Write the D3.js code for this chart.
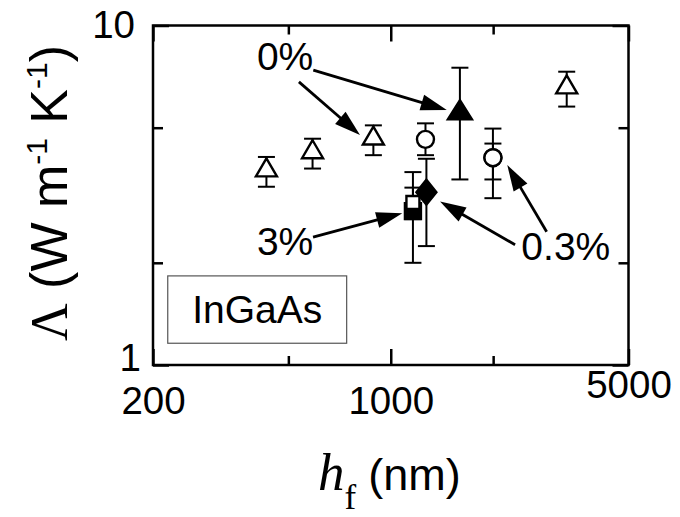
<!DOCTYPE html>
<html lang="en">
<head>
<meta charset="UTF-8">
<title>InGaAs thermal conductivity</title>
<script src="https://d3js.org/d3.v7.min.js"></script>
<style>
  body { margin: 0; background: #fff; }
  text { font-family: "Liberation Sans", Arial, sans-serif; fill: #000; }
  .serif { font-family: "Liberation Serif", "Times New Roman", serif; }
</style>
</head>
<body>
<svg id="chart" width="680" height="517"></svg>
<script>
// film thickness (nm) and conductivity (W m-1 K-1)
const openTriX  = [431, 589, 889, 3291];
const openTriY  = [3.82, 4.32, 4.74, 6.71];
const openTriLo = [3.35, 3.79, 4.15, 5.77];
const openTriHi = [4.10, 4.64, 5.08, 7.31];

const fillTriX  = [1597];
const fillTriY  = [5.65];
const fillTriLo = [3.52];
const fillTriHi = [7.51];

const circX  = [1265, 1997, 1997];
const circY  = [4.62, 4.08, 4.08];
const circLo = [4.15, 3.10, 3.52];
const circHi = [5.15, 4.97, 4.49];

const diamX  = [1273];
const diamY  = [3.23];
const diamLo = [2.24];
const diamHi = [4.05];

const fillSqX  = [1162];
const fillSqY  = [2.84];
const fillSqLo = [2.00];
const fillSqHi = [3.33];

const openSqX  = [1162];
const openSqY  = [3.01];
const openSqLo = [2.69];
const openSqHi = [3.70];

const xMajor = [200, 1000, 5000];
const xMinor = [500, 2000];
const yMajor = [1, 10];
const yMinor = [2, 5];

// annotations: label text / anchor, arrows in data units
const noteText = ["0%", "3%", "0.3%"];
const noteX    = [489, 489, 3271];
const noteY    = [7.39, 2.11, 2.04];
const arrowX1  = [592, 537, 591, 2320, 2873];
const arrowY1  = [7.39, 6.82, 2.38, 2.26, 2.47];
const arrowX2  = [1461, 812, 1081, 1396, 2201];
const arrowY2  = [5.64, 4.76, 2.80, 3.03, 3.88];
const boxX = [221, 742];
const boxY = [1.159, 1.83];

const zip = (xs, ys, lo, hi) => xs.map((v, i) => ({x: v, y: ys[i], lo: lo[i], hi: hi[i]}));

const svg = d3.select("#chart");
const L = 153, R = 628.5, T = 25.5, B = 365;

const x = d3.scaleLog().domain([200, 5000]).range([L, R]);
const y = d3.scaleLog().domain([1, 10]).range([B, T]);

// ticks (inward, mirrored on all sides)
function ticks(axisFn, scale, vals, len, tx, ty) {
  const g = svg.append("g").attr("transform", `translate(${tx},${ty})`)
    .call(axisFn(scale).tickValues(vals).tickSize(len).tickFormat(""));
  g.select(".domain").remove();
  g.selectAll("line").attr("stroke", "#000").attr("stroke-width", 2.5);
}
ticks(d3.axisBottom, x, xMajor, -16, 0, B);
ticks(d3.axisBottom, x, xMinor, -9, 0, B);
ticks(d3.axisTop, x, xMajor, -16, 0, T);
ticks(d3.axisTop, x, xMinor, -9, 0, T);
ticks(d3.axisLeft, y, yMajor, -16, L, 0);
ticks(d3.axisLeft, y, yMinor, -10, L, 0);
ticks(d3.axisRight, y, yMajor, -16, R, 0);
ticks(d3.axisRight, y, yMinor, -10, R, 0);

svg.append("rect")
  .attr("x", L).attr("y", T).attr("width", R - L).attr("height", B - T)
  .attr("fill", "none").attr("stroke", "#000").attr("stroke-width", 2.5);

// tick labels
const xl = svg.append("g").attr("transform", `translate(0,${B})`)
  .call(d3.axisBottom(x).tickValues(xMajor).tickSize(0).tickFormat(d3.format("d")));
xl.select(".domain").remove();
xl.selectAll("text")
  .attr("font-size", 38.5).attr("font-family", "Liberation Sans, Arial, sans-serif")
  .attr("dy", 0).attr("y", d => d === 5000 ? 33 : 49);

const yl = svg.append("g").attr("transform", `translate(${L},0)`)
  .call(d3.axisLeft(y).tickValues(yMajor).tickSize(0).tickFormat(d3.format("d")));
yl.select(".domain").remove();
yl.selectAll("text")
  .attr("font-size", 38.5).attr("font-family", "Liberation Sans, Arial, sans-serif")
  .attr("dy", d => d === 10 ? 12 : 5).attr("x", d => d === 10 ? -18 : -12);

// error bars
const allPts = [
  ...zip(openTriX, openTriY, openTriLo, openTriHi),
  ...zip(fillTriX, fillTriY, fillTriLo, fillTriHi),
  ...zip(circX, circY, circLo, circHi),
  ...zip(diamX, diamY, diamLo, diamHi),
  ...zip(fillSqX, fillSqY, fillSqLo, fillSqHi),
  ...zip(openSqX, openSqY, openSqLo, openSqHi)
];
const cap = 8.5;
const eb = svg.append("g").attr("stroke", "#000").attr("stroke-width", 2);
eb.selectAll("line.v").data(allPts).join("line").attr("class", "v")
  .attr("x1", d => x(d.x)).attr("x2", d => x(d.x))
  .attr("y1", d => y(d.lo)).attr("y2", d => y(d.hi));
eb.selectAll("line.lo").data(allPts).join("line").attr("class", "lo")
  .attr("x1", d => x(d.x) - cap).attr("x2", d => x(d.x) + cap)
  .attr("y1", d => y(d.lo)).attr("y2", d => y(d.lo));
eb.selectAll("line.hi").data(allPts).join("line").attr("class", "hi")
  .attr("x1", d => x(d.x) - cap).attr("x2", d => x(d.x) + cap)
  .attr("y1", d => y(d.hi)).attr("y2", d => y(d.hi));

// marker shapes (w, h)
function triangle(w, h) {
  const p = d3.path();
  p.moveTo(0, -h / 2); p.lineTo(w / 2, h / 2); p.lineTo(-w / 2, h / 2); p.closePath();
  return p.toString();
}
function diamond(w, h) {
  const p = d3.path();
  p.moveTo(0, -h / 2); p.lineTo(w / 2, 0); p.lineTo(0, h / 2); p.lineTo(-w / 2, 0); p.closePath();
  return p.toString();
}
function square(s) {
  const p = d3.path();
  p.rect(-s / 2, -s / 2, s, s);
  return p.toString();
}
function circle(r) {
  const p = d3.path();
  p.arc(0, 0, r, 0, 2 * Math.PI);
  return p.toString();
}

function markers(xs, ys, d, fill) {
  svg.append("g").selectAll("path")
    .data(xs.map((v, i) => ({x: v, y: ys[i]})))
    .join("path")
    .attr("transform", p => `translate(${x(p.x)},${y(p.y)})`)
    .attr("d", d)
    .attr("fill", fill)
    .attr("stroke", "#000")
    .attr("stroke-width", 2.4)
    .attr("stroke-linejoin", "miter");
}
markers(openTriX, openTriY, triangle(21, 18), "#fff");
markers(fillTriX, fillTriY, triangle(24, 19), "#000");
markers(circX, circY, circle(8.5), "#fff");
markers(diamX, diamY, diamond(20, 25), "#000");
markers(fillSqX, fillSqY, square(16), "#000");
markers(openSqX, openSqY, square(13), "#fff");

// InGaAs box
svg.append("rect")
  .attr("x", x(boxX[0])).attr("y", y(boxY[1]))
  .attr("width", x(boxX[1]) - x(boxX[0])).attr("height", y(boxY[0]) - y(boxY[1]))
  .attr("fill", "#fff").attr("stroke", "#555").attr("stroke-width", 1.2);
svg.append("text")
  .attr("x", (x(boxX[0]) + x(boxX[1])) / 2).attr("y", y(boxY[0]) - 20.5)
  .attr("text-anchor", "middle").attr("font-size", 39)
  .text("InGaAs");

// annotation labels
svg.append("g").selectAll("text")
  .data(noteText.map((t, i) => ({t, x: noteX[i], y: noteY[i]})))
  .join("text")
  .attr("x", d => x(d.x)).attr("y", d => y(d.y))
  .attr("text-anchor", "middle").attr("font-size", 39)
  .text(d => d.t);

// arrows
const headLen = 26, headW = 16;
const arrows = arrowX1.map((v, i) => ({
  x1: x(v), y1: y(arrowY1[i]), x2: x(arrowX2[i]), y2: y(arrowY2[i])
}));
const ag = svg.append("g");
arrows.forEach(a => {
  const ang = Math.atan2(a.y2 - a.y1, a.x2 - a.x1);
  const bx = a.x2 - headLen * Math.cos(ang), by = a.y2 - headLen * Math.sin(ang);
  ag.append("line")
    .attr("x1", a.x1).attr("y1", a.y1).attr("x2", bx + Math.cos(ang)).attr("y2", by + Math.sin(ang))
    .attr("stroke", "#000").attr("stroke-width", 2.8);
  const nx = -Math.sin(ang) * headW / 2, ny = Math.cos(ang) * headW / 2;
  ag.append("path")
    .attr("d", `M${a.x2},${a.y2}L${bx + nx},${by + ny}L${bx - nx},${by - ny}Z`)
    .attr("fill", "#000");
});

// axis titles
const yt = svg.append("text")
  .attr("transform", "translate(67,193) rotate(-90)")
  .attr("text-anchor", "middle").attr("font-size", 52);
yt.append("tspan").attr("class", "serif").text("\u039B");
yt.append("tspan").text(" (W m");
yt.append("tspan").attr("font-size", 30).attr("dy", -20).text("-1");
yt.append("tspan").attr("dy", 20).text(" K");
yt.append("tspan").attr("font-size", 30).attr("dy", -20).text("-1");
yt.append("tspan").attr("dy", 20).text(")");

const xt = svg.append("text").attr("x", 318).attr("y", 490);
xt.append("tspan").attr("class", "serif").attr("font-style", "italic").attr("font-size", 53).text("h");
xt.append("tspan").attr("class", "serif").attr("font-size", 35).attr("dy", 19).text("f");
xt.append("tspan").attr("font-size", 45).attr("dy", -19).attr("dx", 12).text("(nm)");
</script>
</body>
</html>
